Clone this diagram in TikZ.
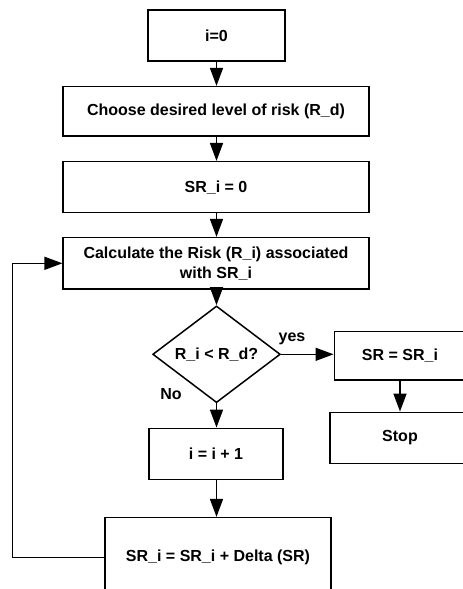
\documentclass[tikz,border=0pt]{standalone}
\usepackage{fontspec}
\setmainfont{Liberation Sans}
\usetikzlibrary{shapes.geometric,arrows.meta}
\begin{document}
\begin{tikzpicture}[x=1pt,y=-1pt,
  every node/.style={font=\bfseries\fontsize{16}{20}\selectfont, inner sep=0pt},
  box/.style={draw, line width=1.5pt, rectangle, align=center},
  dia/.style={draw, line width=1.5pt, diamond, align=center},
  lbl/.style={},
  arr/.style={line width=1.5pt, -{Triangle[length=18pt,width=13pt]}},
  ln/.style={line width=1.5pt}]
\useasboundingbox (0,0) rectangle (463,589);
\node[box, minimum width=137.3pt, minimum height=51pt] (n0) at (216.5,35.5) {i=0};
\node[box, minimum width=305.7pt, minimum height=49.3pt] (n1) at (216,111.3) {Choose desired level of risk (R\_d)};
\node[box, minimum width=305.7pt, minimum height=51pt] (n2) at (216,187.2) {SR\_i = 0};
\node[box, minimum width=305.7pt, minimum height=51.3pt] (n3) at (216,263.3) {Calculate the Risk (R\_i) associated\\with SR\_i};
\node[dia, minimum width=127.6pt, minimum height=77.4pt] (d) at (216.5,354.3) {R\_i {\textless} R\_d?};
\node[box, minimum width=131.4pt, minimum height=48.3pt] (sr) at (400,355.8) {SR = SR\_i};
\node[box, minimum width=140pt, minimum height=51pt] (stop) at (400,437.8) {Stop};
\node[box, minimum width=133.7pt, minimum height=51pt] (inc) at (216,453.8) {i = i + 1};
\node[box, minimum width=226pt, minimum height=79.3pt] (delta) at (218,557.3) {SR\_i = SR\_i + Delta (SR)};
\node[lbl] (yes) at (292,338.5) {yes};
\node[lbl] (no) at (171,394) {No};
\coordinate (c1) at (12.3,557.3);
\coordinate (c2) at (12.3,263.3);
\draw[arr] (216.5,0 |- n0.south) -- (216.5,0 |- n1.north);
\draw[arr] (216.5,0 |- n1.south) -- (216.5,0 |- n2.north);
\draw[arr] (216.5,0 |- n2.south) -- (216.5,0 |- n3.north);
\draw[arr] (d.north |- n3.south) -- (d.north);
\draw[arr] (d.east) -- (d.east -| sr.west);
\draw[arr] (sr.south) -- (stop.north);
\draw[arr] (d.south) -- (d.south |- inc.north);
\draw[arr] (d.south |- inc.south) -- (d.south |- delta.north);
\draw[ln] (delta.west) -- (c1) -- (c2);
\draw[arr] (c2) -- (n3.west);
\end{tikzpicture}
\end{document}
